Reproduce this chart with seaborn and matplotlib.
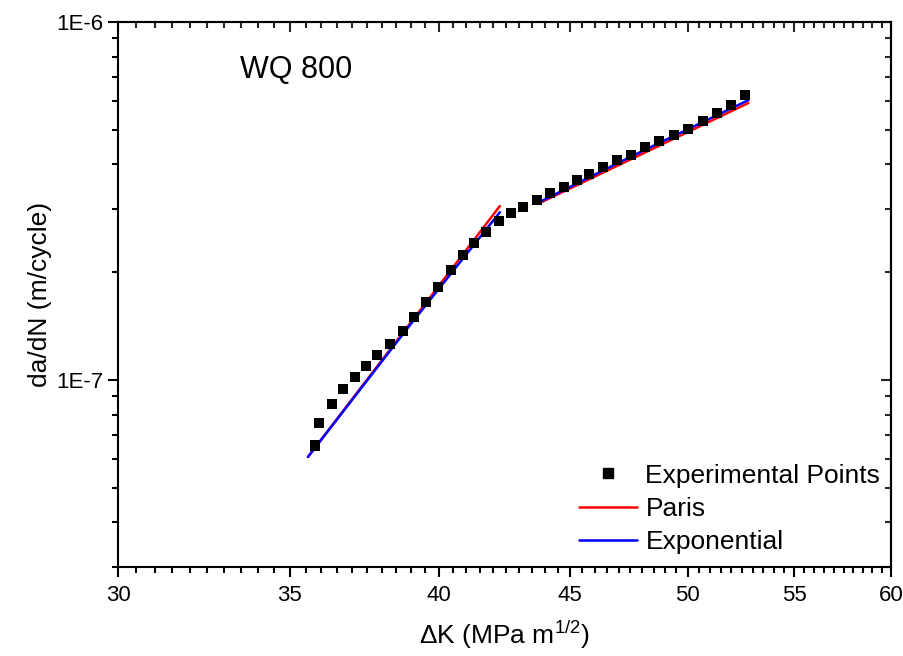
import numpy as np
import matplotlib.pyplot as plt
import seaborn as sns
from matplotlib.lines import Line2D
from matplotlib.ticker import FixedLocator, NullFormatter, LogLocator

# experimental crack growth points
delta_k = [35.80, 35.93, 36.35, 36.71, 37.10, 37.47, 37.84, 38.29, 38.74, 39.12,
           39.54, 39.97, 40.44, 40.88, 41.28, 41.73, 42.22, 42.68, 43.14, 43.68,
           44.19, 44.75, 45.28, 45.77, 46.35, 46.93, 47.53, 48.13, 48.74, 49.40,
           50.02, 50.70, 51.34, 51.99, 52.64]
dadn = [6.55e-8, 7.59e-8, 8.57e-8, 9.44e-8, 1.019e-7, 1.093e-7, 1.174e-7, 1.261e-7,
        1.371e-7, 1.500e-7, 1.652e-7, 1.819e-7, 2.029e-7, 2.234e-7, 2.414e-7,
        2.590e-7, 2.780e-7, 2.925e-7, 3.041e-7, 3.183e-7, 3.327e-7, 3.458e-7,
        3.620e-7, 3.759e-7, 3.934e-7, 4.117e-7, 4.250e-7, 4.477e-7, 4.655e-7,
        4.832e-7, 5.024e-7, 5.288e-7, 5.566e-7, 5.862e-7, 6.25e-7]

# fitted curves, two regimes
paris_dk_1 = [35.57, 42.25]
paris_rate_1 = [6.09e-8, 3.06e-7]
exp_dk_1 = [35.57, 39.0, 42.25]
exp_rate_1 = [6.09e-8, 1.43e-7, 2.94e-7]
paris_dk_2 = [43.7, 52.8]
paris_rate_2 = [3.10e-7, 5.94e-7]
exp_dk_2 = [43.7, 47.5, 52.8]
exp_rate_2 = [3.12e-7, 4.20e-7, 6.05e-7]

x_major = [30, 35, 40, 45, 50, 55, 60]
x_minor = [v / 2 for v in range(60, 121)]
y_major = [1e-7, 1e-6]
y_labels = ['1E-7', '1E-6']

sns.set_theme(style='ticks')
plt.rcParams['font.family'] = ['Liberation Sans', 'DejaVu Sans']
plt.rcParams['mathtext.fontset'] = 'custom'
plt.rcParams['mathtext.rm'] = 'Liberation Sans'
plt.rcParams['mathtext.it'] = 'Liberation Sans:italic'
plt.rcParams['text.color'] = 'black'
plt.rcParams['axes.labelcolor'] = 'black'

fig = plt.figure(figsize=(9.04, 6.56), dpi=100)
ax = fig.add_axes([118 / 904, 1 - 567 / 656, 773 / 904, 545 / 656])

sns.lineplot(x=paris_dk_1, y=paris_rate_1, sort=False, color='#ff0000', lw=1.8, ax=ax)
sns.lineplot(x=exp_dk_1, y=exp_rate_1, sort=False, color='#0000ff', lw=1.8, ax=ax)
sns.lineplot(x=paris_dk_2, y=paris_rate_2, sort=False, color='#ff0000', lw=1.8, ax=ax)
sns.lineplot(x=exp_dk_2, y=exp_rate_2, sort=False, color='#0000ff', lw=1.8, ax=ax)
sns.scatterplot(x=delta_k, y=dadn, marker='s', s=56, color='black',
                edgecolor='none', ax=ax, zorder=3)

ax.set_xscale('log')
ax.set_yscale('log')
ax.set_xlim(30, 60)
ax.set_ylim(3e-8, 1e-6)

ax.set_xticks(x_major, labels=[str(v) for v in x_major])
ax.xaxis.set_minor_locator(FixedLocator(x_minor))
ax.xaxis.set_minor_formatter(NullFormatter())
ax.set_yticks(y_major, labels=y_labels)
ax.yaxis.set_minor_locator(LogLocator(base=10, subs=np.arange(2, 10)))
ax.yaxis.set_minor_formatter(NullFormatter())

for sp in ax.spines.values():
    sp.set_visible(True)
    sp.set_linewidth(1.5)
    sp.set_color('black')
ax.tick_params(which='both', direction='out', width=1.5, color='black',
               labelsize=16, labelcolor='black')
ax.tick_params(which='major', length=7)
ax.tick_params(which='minor', length=4.5)
ax.tick_params(axis='x', pad=6)

# inward ticks on top and right, like the original
top = ax.secondary_xaxis('top')
top.xaxis.set_major_locator(FixedLocator(x_major))
top.xaxis.set_minor_locator(FixedLocator(x_minor))
top.tick_params(which='both', direction='in', width=1.5, labeltop=False)
top.tick_params(which='major', length=7)
top.tick_params(which='minor', length=4.5)
right = ax.secondary_yaxis('right')
right.yaxis.set_major_locator(FixedLocator(y_major))
right.yaxis.set_minor_locator(LogLocator(base=10, subs=np.arange(2, 10)))
right.tick_params(which='both', direction='in', width=1.5, labelright=False)
right.tick_params(which='major', length=7)
right.tick_params(which='minor', length=4.5)
for sec in (top, right):
    for sp in sec.spines.values():
        sp.set_linewidth(1.5)

ax.set_xlabel('ΔK (MPa m$^{1/2}$)', fontsize=19, labelpad=9)
ax.set_ylabel('da/dN (m/cycle)', fontsize=19, labelpad=3)

ax.text(0.158, 0.897, 'WQ 800', transform=ax.transAxes, fontsize=22,
        va='baseline', ha='left')

handles = [
    Line2D([], [], ls='none', marker='s', ms=7.5, color='black'),
    Line2D([], [], color='#ff0000', lw=1.8),
    Line2D([], [], color='#0000ff', lw=1.8),
]
ax.legend(handles, ['Experimental Points', 'Paris', 'Exponential'],
          loc='lower right', bbox_to_anchor=(1.01, -0.01), frameon=False,
          fontsize=19, handlelength=2.2, handletextpad=0.3, labelspacing=0.35,
          borderpad=0.2, labelcolor='black')

fig.savefig('out.png', dpi=100)
